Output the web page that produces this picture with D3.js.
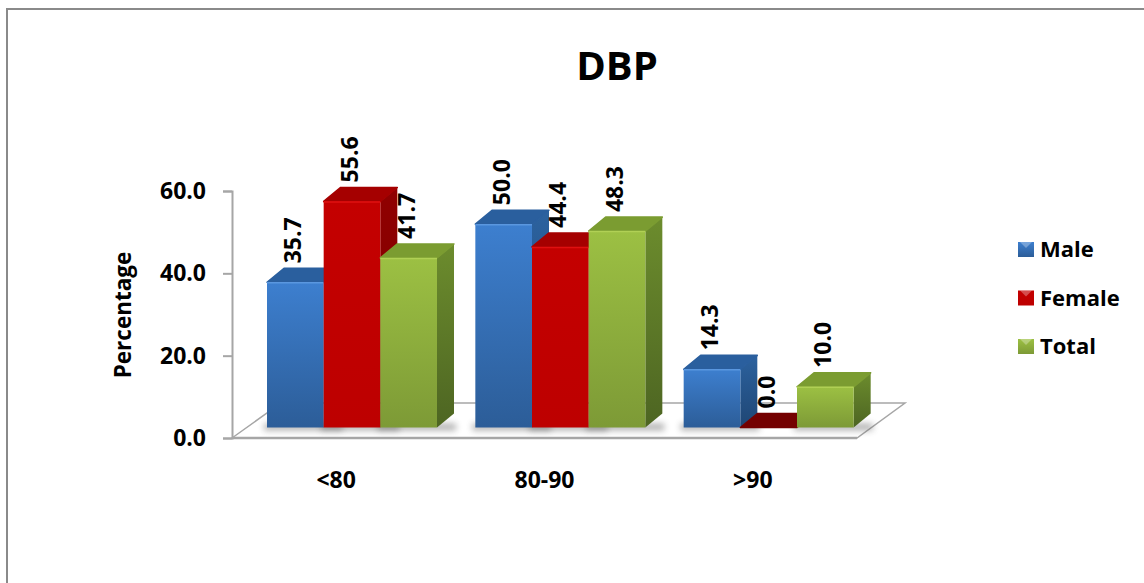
<!DOCTYPE html>
<html>
<head>
<meta charset="utf-8">
<script src="https://cdnjs.cloudflare.com/ajax/libs/d3/7.8.5/d3.min.js"></script>
<style>
html,body{margin:0;padding:0;background:#fff}
svg{display:block}
text{font-family:"Open Sans","Noto Sans",sans-serif;font-weight:700;fill:#000}
</style>
</head>
<body>
<svg id="chart" width="1144" height="583"></svg>
<script>
const categories = ["<80", "80-90", ">90"];
const seriesNames = ["Male", "Female", "Total"];
const male = [35.7, 50.0, 14.3];
const female = [55.6, 44.4, 0.0];
const total = [41.7, 48.3, 10.0];
const yTicks = [0, 20, 40, 60];
const seriesValues = [male, female, total];

const palette = {
  Male:   {hi:"#3d7fcf", lo:"#2c5d98", top:"#2a5f9e", sideHi:"#2c629f", sideLo:"#1f4674", edge:"#5a97df"},
  Female: {hi:"#c40000", lo:"#bd0000", top:"#a50000", sideHi:"#900000", sideLo:"#7a0000", edge:"#e01010"},
  Total:  {hi:"#9cc043", lo:"#7d9a36", top:"#7b9c31", sideHi:"#6c8c2d", sideLo:"#4d6522", edge:"#b0d055"}
};

const svg = d3.select("#chart");
const defs = svg.append("defs");

const depthX = 17, depthY = 14;

// axis scale (front plane) and bar scale (back of the floor)
const yAxisScale = d3.scaleLinear().domain([0, 60]).range([438, 191]);
const yBar = d3.scaleLinear().domain([0, 60]).range([427.5, 183.5]);
const xCat = d3.scaleBand().domain(categories).range([163, 788]);
const xSeries = d3.scaleBand().domain(seriesNames).range([104, 274]);

seriesNames.forEach(name => {
  const c = palette[name];
  [["front", c.hi, c.lo], ["side", c.sideHi, c.sideLo], ["swatch", c.hi, c.lo]].forEach(([kind, a, b]) => {
    const grad = defs.append("linearGradient").attr("id", kind + name)
      .attr("x1", 0).attr("y1", 0).attr("x2", 0).attr("y2", 1);
    grad.append("stop").attr("offset", "0%").attr("stop-color", a);
    grad.append("stop").attr("offset", "100%").attr("stop-color", b);
  });
});
defs.append("filter").attr("id", "soft").attr("x", "-20%").attr("y", "-100%")
  .attr("width", "140%").attr("height", "300%")
  .append("feGaussianBlur").attr("stdDeviation", 3);

// frame: only the top and left edges are drawn
svg.append("path").attr("d", "M7,583V9H1144")
  .attr("fill", "none").attr("stroke", "#8a8a8a").attr("stroke-width", 2);

// title
svg.append("text").attr("x", 617).attr("y", 80).attr("text-anchor", "middle")
  .style("font-size", "40px").text("DBP");

// floor
const floorPts = [[232, 438], [281, 403], [905, 403], [857, 438]];
svg.append("polygon").attr("points", floorPts.join(" "))
  .attr("fill", "#fff").attr("stroke", "#a6a6a6").attr("stroke-width", 1.5);
svg.append("line").attr("x1", 232).attr("x2", 857).attr("y1", 438).attr("y2", 438)
  .attr("stroke", "#a6a6a6").attr("stroke-width", 2.5);

// y axis
const yAxis = d3.axisLeft(yAxisScale).tickValues(yTicks).tickFormat(d3.format(".1f"))
  .tickSize(9).tickPadding(17);
const axisG = svg.append("g").attr("transform", "translate(232,0)").call(yAxis);
axisG.select(".domain").attr("stroke", "#a6a6a6").attr("stroke-width", 2);
axisG.selectAll(".tick line").attr("stroke", "#a6a6a6").attr("stroke-width", 2);
axisG.selectAll("text").style("font-size", "23px");

svg.append("text").attr("transform", "translate(131,315) rotate(-90)")
  .attr("text-anchor", "middle").style("font-size", "22.5px").text("Percentage");

// category labels
const xAxis = d3.axisBottom(xCat).tickSize(0).tickPadding(0);
const catG = svg.append("g").attr("transform", "translate(69,472)").call(xAxis);
catG.select(".domain").remove();
catG.selectAll("text").style("font-size", "23px");

// bars, drawn left to right so nearer sides overlap properly
categories.forEach((cat, ci) => {
  const g = svg.append("g").attr("transform", `translate(${xCat(cat)},0)`);
  seriesNames.forEach((name, si) => {
    const v = seriesValues[si][ci];
    const x0 = xSeries(name), x1 = x0 + xSeries.bandwidth();
    const yb = yBar(0);
    // contact shadow on the floor
    g.append("rect").attr("x", x0 - 3).attr("y", yb - 4).attr("width", x1 - x0 + 22).attr("height", 7)
      .attr("fill", "#555").attr("opacity", v > 0 ? 0.45 : 0).attr("filter", "url(#soft)");
  });
  seriesNames.forEach((name, si) => {
    const v = seriesValues[si][ci];
    const c = palette[name];
    const x0 = xSeries(name), x1 = x0 + xSeries.bandwidth();
    const yt = yBar(v), yb = yBar(0);
    const bar = g.append("g");
    bar.append("polygon")
      .attr("points", [[x1, yt], [x1 + depthX, yt - depthY], [x1 + depthX, yb - depthY], [x1, yb]].join(" "))
      .attr("fill", v > 0 ? `url(#side${name})` : c.sideLo);
    bar.append("polygon")
      .attr("points", [[x0, yt], [x0 + depthX, yt - depthY], [x1 + depthX, yt - depthY], [x1, yt]].join(" "))
      .attr("fill", v > 0 ? c.top : "#740000")
      .attr("stroke", v > 0 ? c.top : "#740000").attr("stroke-width", 1.5).attr("stroke-linejoin", "round");
    if (v > 0) {
      bar.append("rect").attr("x", x0).attr("y", yt).attr("width", x1 - x0).attr("height", yb - yt)
        .attr("fill", `url(#front${name})`);
      bar.append("line").attr("x1", x0).attr("x2", x1).attr("y1", yt + 0.5).attr("y2", yt + 0.5)
        .attr("stroke", c.edge).attr("stroke-width", 1.5);
    }
  });
  seriesNames.forEach((name, si) => {
    const v = seriesValues[si][ci];
    const cx = xSeries(name) + xSeries.bandwidth() / 2 + 6;
    g.append("text")
      .attr("transform", `translate(${cx},${yBar(v) - 19}) rotate(-90)`)
      .style("font-size", "23px").text(d3.format(".1f")(v));
  });
});

// legend
const legendY = d3.scalePoint().domain(seriesNames).range([249, 346]);
seriesNames.forEach(name => {
  const y = legendY(name);
  svg.append("rect").attr("x", 1018).attr("y", y - 7).attr("width", 16).attr("height", 15)
    .attr("fill", `url(#swatch${name})`);
  svg.append("polygon")
    .attr("points", [[1020, y - 7], [1032, y - 7], [1026, y - 1]].join(" "))
    .attr("fill", "#fff").attr("opacity", 0.3);
  svg.append("text").attr("x", 1040).attr("y", y + 8).style("font-size", "22px").text(name);
});
</script>
</body>
</html>
